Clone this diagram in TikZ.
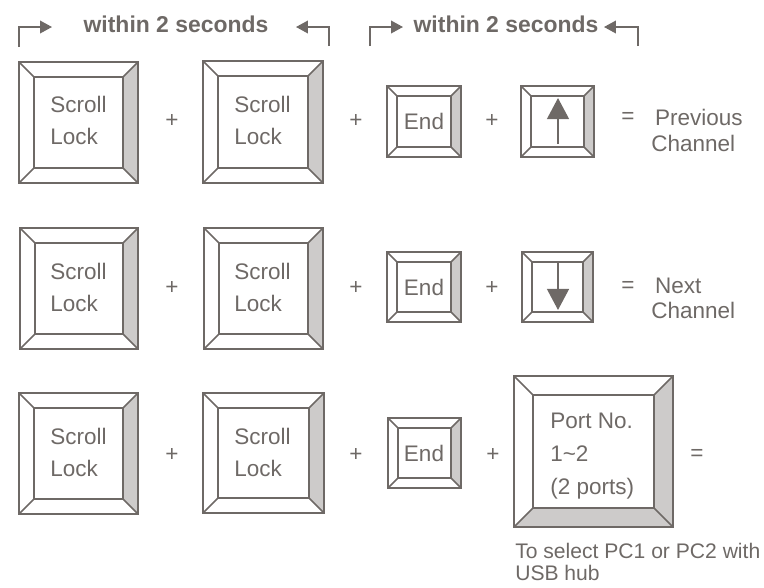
\documentclass[tikz,border=0pt]{standalone}
\usepackage{fontspec}
\setmainfont{Liberation Sans}
\usetikzlibrary{arrows.meta}

\definecolor{inkgray}{RGB}{110,105,102}
\definecolor{bevelgray}{RGB}{205,203,202}

\tikzset{
  keyline/.style={draw=inkgray,line width=1.1pt},
  keytext/.style={text=inkgray,font=\fontsize{16}{22.7}\selectfont,align=left,inner sep=0pt,anchor=west},
  optext/.style={text=inkgray,font=\fontsize{16}{19}\selectfont,inner sep=0pt},
  restext/.style={text=inkgray,font=\fontsize{16}{18}\selectfont,align=left,inner sep=0pt,anchor=west},
  bracket/.style={draw=inkgray,line width=1.1pt,-{Triangle[length=8.5pt,width=9pt]}},
  keyarrow/.style={draw=inkgray,line width=1.6pt,-{Triangle[length=15pt,width=15.5pt]}},
  timing/.style={text=inkgray,font=\bfseries\fontsize{16.3}{19}\selectfont,inner sep=0pt}
}

% key cap: x1,y1,x2,y2,bevel (pixel units, y downwards)
\newcommand{\keycap}[5]{%
  \fill[bevelgray] (#3,#2) -- (#3,#4) -- (#3-#5,#4-#5) -- (#3-#5,#2+#5) -- cycle;
  \draw[keyline] (#1,#2) rectangle (#3,#4);
  \draw[keyline] (#1+#5,#2+#5) rectangle (#3-#5,#4-#5);
  \draw[keyline] (#1,#2) -- (#1+#5,#2+#5) (#3,#2) -- (#3-#5,#2+#5)
                 (#1,#4) -- (#1+#5,#4-#5) (#3,#4) -- (#3-#5,#4-#5);
}

\begin{document}
\begin{tikzpicture}[x=0.025cm,y=-0.025cm]
    \useasboundingbox (0,0) rectangle (764,587);

    % timing brackets
    \node[timing] (within1) at (176,24) {within 2 seconds};
    \node[timing] (within2) at (506,24) {within 2 seconds};
    \coordinate (l1) at (19,47);   \coordinate (t1) at (52,27);
    \coordinate (r1) at (329,46);  \coordinate (t2) at (296,27);
    \coordinate (l2) at (370,46);  \coordinate (t3) at (403,27);
    \coordinate (r2) at (638,46);  \coordinate (t4) at (604,27);
    \draw[bracket] (l1) |- (t1);
    \draw[bracket] (r1) |- (t2);
    \draw[bracket] (l2) |- (t3);
    \draw[bracket] (r2) |- (t4);

    % row 1
    \keycap{19}{62}{138}{183}{15}
    \keycap{203}{61}{323}{183}{15}
    \keycap{387}{86}{461}{157}{10}
    \keycap{521}{86}{594}{157}{10}
    \node[keytext] (sl11) at (50,120) {Scroll\\Lock};
    \node[keytext] (sl12) at (234,120) {Scroll\\Lock};
    \node[optext] (end1) at (424,121) {End};
    \coordinate (up1s) at (558,144);  \coordinate (up1t) at (558,98);
    \draw[keyarrow] (up1s) -- (up1t);
    \node[optext] (p11) at (172,121) {+};
    \node[optext] (p12) at (356,121) {+};
    \node[optext] (p13) at (492,121) {+};
    \node[optext] (eq1) at (628,118) {=};
    \node[restext] (prev) at (651,130.5) {\,Previous\\Channel};

    % row 2
    \keycap{20}{228}{138}{349}{15}
    \keycap{204}{228}{323}{349}{15}
    \keycap{387}{252}{461}{322}{10}
    \keycap{522}{252}{593}{322}{10}
    \node[keytext] (sl21) at (50,287) {Scroll\\Lock};
    \node[keytext] (sl22) at (234,287) {Scroll\\Lock};
    \node[optext] (end2) at (424,287) {End};
    \coordinate (dn2s) at (558,263);  \coordinate (dn2t) at (558,310);
    \draw[keyarrow] (dn2s) -- (dn2t);
    \node[optext] (p21) at (172,288) {+};
    \node[optext] (p22) at (356,288) {+};
    \node[optext] (p23) at (492,288) {+};
    \node[optext] (eq2) at (628,287) {=};
    \node[restext] (next) at (651,298.5) {\,Next\\Channel};

    % row 3
    \keycap{19}{393}{138}{514}{15}
    \keycap{203}{393}{324}{513}{15}
    \keycap{388}{418}{461}{488}{10}
    \fill[bevelgray] (514,527) -- (673,527) -- (654,508) -- (533,508) -- cycle;
    \keycap{514}{376}{673}{527}{19}
    \node[keytext] (sl31) at (50,452) {Scroll\\Lock};
    \node[keytext] (sl32) at (234,452) {Scroll\\Lock};
    \node[optext] (end3) at (424,453) {End};
    \node[keytext,font=\fontsize{16}{23.5}\selectfont] (port) at (550,456.5) {Port No.\\1\textasciitilde 2\\(2 ports)};
    \node[optext] (p31) at (172,455) {+};
    \node[optext] (p32) at (356,455) {+};
    \node[optext] (p33) at (493,455) {+};
    \node[optext] (eq3) at (697,455) {=};
    \node[restext,font=\fontsize{15}{15.8}\selectfont] (note) at (515,562) {To select PC1 or PC2 with\\USB hub};

\end{tikzpicture}
\end{document}
